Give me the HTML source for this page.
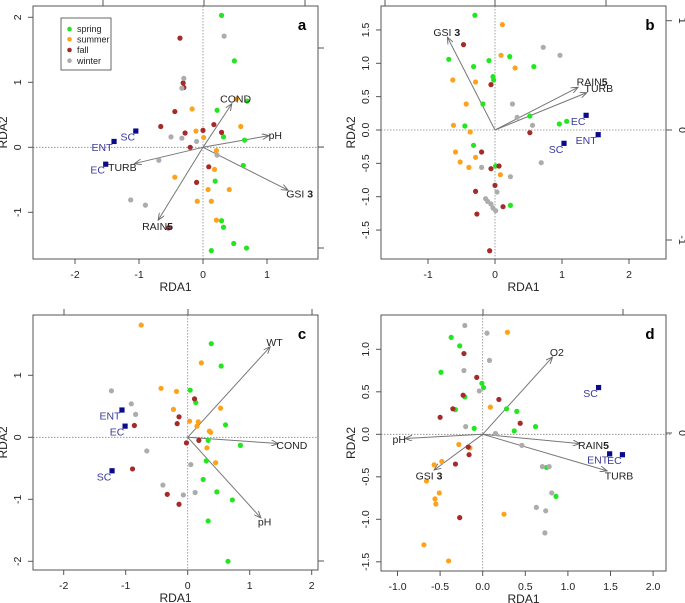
<!DOCTYPE html>
<html><head><meta charset="utf-8">
<style>
html,body{margin:0;padding:0;background:#fff;}
svg{display:block;font-family:"Liberation Sans",Arial,sans-serif;}
</style></head>
<body>
<svg id="fig" width="685" height="603" viewBox="0 0 685 603" xmlns="http://www.w3.org/2000/svg">
<defs>
<marker id="ah" markerWidth="8" markerHeight="6" refX="7" refY="3" orient="auto" markerUnits="userSpaceOnUse">
<path d="M0,0 L7,3 L0,6" fill="none" stroke="#666" stroke-width="0.9"/>
</marker>
</defs>
</svg>
<script>
// ---------- Panel a data ----------
const aSpring=[[0.29,2.03],[0.49,1.33],[0.69,0.71],[0.22,0.57],[0.32,0.16],[0.65,0.11],[0.63,-0.28],[0.19,-0.52],[0.29,-1.13],[0.32,-1.23],[0.48,-1.48],[0.68,-1.55],[0.13,-1.59]];
const aSummer=[[0.52,0.74],[-0.17,0.59],[0.59,0.32],[-0.11,0.25],[0.01,0.15],[0.21,-0.05],[0.18,-0.34],[-0.44,-0.46],[0.08,-0.65],[0.41,-0.65],[-0.09,-0.83],[0.13,-0.83],[0.21,-1.12]];
const aFall=[[-0.36,1.68],[-0.31,0.99],[-0.30,0.92],[-0.44,0.55],[-0.66,0.32],[-0.28,0.22],[0.17,0.35],[0,0.26],[0.29,0.23],[-0.20,0.0],[0.09,-0.30],[-0.10,-0.54],[-0.54,-1.24]];
const aWinter=[[0.33,1.71],[-0.30,1.06],[-0.33,0.91],[-0.50,0.16],[-0.33,0.14],[-0.10,0.09],[0.22,-0.12],[-0.69,-0.20],[-1.13,-0.81],[-0.90,-0.89]];
const aSpecies=[["SC",-1.05,0.25],["ENT",-1.39,0.09],["EC",-1.52,-0.26]];
const aArrows=[["COND",0.45,0.67,0.51,0.74],["pH",1.03,0.18,1.13,0.18],["TURB",-1.07,-0.25,-1.26,-0.31],["GSI 3",1.33,-0.66,1.51,-0.72],["RAIN5",-0.70,-1.12,-0.71,-1.22]];
const aXTicks=[-2,-1,0,1];
const aYTicks=[-1,0,1,2];
// ---------- Panel b data ----------
const bSpring=[[-0.30,1.72],[-0.69,1.06],[-0.09,1.04],[-0.32,0.95],[0.22,1.10],[0.58,0.95],[-0.03,0.80],[-0.02,0.75],[-0.18,0.39],[-0.45,0.06],[0.52,0.21],[0.96,0.09],[1.07,0.13],[-0.32,-0.23],[0.01,-0.54],[0.23,-1.13]];
const bSummer=[[0.11,1.58],[0.09,1.12],[0.30,0.93],[-0.63,0.75],[-0.29,0.72],[-0.43,0.39],[-0.62,0.07],[-0.37,-0.03],[-0.59,-0.33],[-0.52,-0.48],[-0.29,-0.41],[-0.39,-0.56],[0.08,-0.67]];
const bFall=[[-0.47,1.28],[-0.06,0.68],[0.52,-0.04],[-0.20,-0.33],[-0.06,-0.58],[0.06,-0.54],[0,-0.83],[-0.29,-0.92],[0.12,-1.15],[-0.27,-1.26],[-0.08,-1.81]];
const bWinter=[[0.72,1.24],[0.97,1.12],[0.26,0.39],[0.33,0.19],[0.56,0.07],[0.69,-0.49],[-0.20,-0.56],[0.23,-0.70],[0.03,-0.93],[-0.14,-1.03],[-0.11,-1.07],[-0.06,-1.11],[-0.03,-1.17],[0.01,-1.21]];
const bSpecies=[["EC",1.36,0.22],["ENT",1.54,-0.07],["SC",1.03,-0.20]];
const bArrows=[["GSI 3",-0.71,1.39,-0.72,1.46],["RAIN5",1.24,0.64,1.45,0.72],["TURB",1.37,0.56,1.55,0.62]];
const bXTicks=[-1,0,1,2];
const bYTicks=[-1.5,-1.0,-0.5,0.0,0.5,1.0,1.5];
// ---------- Panel c data ----------
const cSpring=[[0.38,1.51],[0.54,1.15],[0.04,0.76],[0.13,0.56],[0.61,0.20],[0.33,-0.05],[0.85,-0.13],[0.30,-0.38],[0.25,-0.68],[0.47,-0.88],[0.72,-1.01],[0.33,-1.35],[0.65,-2.0]];
const cSummer=[[-0.75,1.81],[0.22,1.20],[-0.43,0.79],[-0.18,0.74],[-0.23,0.45],[0.53,0.47],[0.03,0.26],[0.17,0.25],[0.15,0.18],[0.35,0.10],[0.37,0.08],[0.31,-0.17],[0.45,-0.41]];
const cFall=[[0.11,0.62],[-0.14,0.33],[-0.17,0.22],[-0.86,0.19],[0.18,-0.05],[-0.02,-0.09],[-0.89,-0.51],[-0.33,-0.92],[-0.14,-1.08]];
const cWinter=[[-1.23,0.75],[-0.91,0.54],[-0.84,0.37],[-0.66,-0.22],[0.05,-0.44],[-0.40,-0.77],[-0.07,-0.93],[0.12,-0.89]];
const cSpecies=[["ENT",-1.06,0.44],["EC",-1.01,0.18],["SC",-1.22,-0.54]];
const cArrows=[["WT",1.33,1.46,1.40,1.53],["COND",1.46,-0.10,1.68,-0.13],["pH",1.18,-1.30,1.24,-1.37]];
const cXTicks=[-2,-1,0,1,2];
const cYTicks=[-2,-1,0,1];
// ---------- Panel d data ----------
const dSpring=[[-0.37,1.14],[-0.27,1.04],[-0.49,0.73],[-0.01,0.60],[0.01,0.55],[-0.21,0.44],[-0.32,0.29],[0.28,0.30],[0.40,0.27],[-0.10,0.07],[0.62,0.09],[0.37,0.04],[0.75,-0.39],[0.86,-0.73]];
const dSummer=[[0.29,1.20],[0.09,0.32],[-0.28,-0.12],[-0.15,-0.16],[-0.48,-0.32],[-0.57,-0.36],[-0.66,-0.55],[-0.51,-0.69],[-0.56,-0.76],[-0.55,-0.82],[0.25,-0.94],[-0.69,-1.30],[-0.40,-1.49]];
const dFall=[[-0.22,0.95],[-0.07,0.67],[-0.23,0.46],[0.19,0.41],[-0.35,0.30],[-0.50,0.20],[0.44,0.13],[-0.17,-0.15],[-0.16,-0.24],[-0.32,-0.35],[-0.27,-0.98]];
const dWinter=[[-0.21,1.28],[0.05,1.19],[0.08,0.87],[-0.22,0.75],[-0.04,0.51],[-0.20,0.09],[0.15,0.01],[0.46,-0.13],[0.70,-0.38],[0.78,-0.38],[0.81,-0.69],[0.63,-0.86],[0.74,-0.90],[0.73,-1.16]];
const dSpecies=[["SC",1.36,0.55],["ENT",1.49,-0.23],["EC",1.64,-0.24]];
const dArrows=[["O2",0.82,0.91,0.87,0.96],["pH",-0.91,-0.05,-0.98,-0.06],["RAIN5",1.14,-0.11,1.30,-0.13],["TURB",1.46,-0.43,1.60,-0.49],["GSI 3",-0.57,-0.42,-0.63,-0.49]];
const dXTicks=[-1.0,-0.5,0.0,0.5,1.0,1.5,2.0];
const dYTicks=[-1.5,-1.0,-0.5,0.0,0.5,1.0];

const COLORS={spring:"#22e61e",summer:"#ffa21a",fall:"#a52a2a",winter:"#acacac"};
const NS="http://www.w3.org/2000/svg";
const svg=document.getElementById("fig");
function mk(tag,attrs,parent){const e=document.createElementNS(NS,tag);for(const k in attrs)e.setAttribute(k,attrs[k]);(parent||svg).appendChild(e);return e;}

function panel(p){
  const g=mk("g",{});
  
  
  const X=v=>p.x0+v*p.sx, Y=v=>p.y0-v*p.sy;
  const [L,T,R,B]=p.box;
  const zl=mk("line",{x1:X(0),x2:X(0),y1:T,y2:B,stroke:"#888","stroke-width":0.8,"stroke-dasharray":"1.5,1.5"},g);
  
  
  const zh=mk("line",{x1:L,x2:R+p.hext,y1:Y(0),y2:Y(0),stroke:"#888","stroke-width":0.8,"stroke-dasharray":"1.5,1.5"},g);
  
  
  const bx=mk("rect",{x:L,y:T,width:R-L,height:B-T,fill:"none",stroke:"#555","stroke-width":1},g);
  
  
  p.xt.forEach(v=>{
    mk("line",{x1:X(v),x2:X(v),y1:B,y2:B+5,stroke:"#555","stroke-width":1},g);
    const t=mk("text",{x:X(v),y:B+19,"font-size":10.5,"text-anchor":"middle",fill:"#222"},g);
    t.textContent=p.xfmt(v);
    
    
  });
  p.yt.forEach(v=>{
    mk("line",{x1:L-5,x2:L,y1:Y(v),y2:Y(v),stroke:"#555","stroke-width":1},g);
    const t=mk("text",{x:L-12,y:Y(v),"font-size":10.5,"text-anchor":"middle",fill:"#222",transform:`rotate(-90 ${L-12} ${Y(v)})`},g);
    t.textContent=p.fmt(v);
    
    
  });
  p.top.forEach(x=>mk("line",{x1:x,x2:x,y1:T-6,y2:T,stroke:"#555","stroke-width":1},g));
  p.right.forEach(r=>{
    mk("line",{x1:R,x2:R+6,y1:r[0],y2:r[0],stroke:"#555","stroke-width":1},g);
    if(r[1]!==""){const t=mk("text",{x:R+13,y:r[0],"font-size":10.5,"text-anchor":"middle",fill:"#222",transform:`rotate(90 ${R+13} ${r[0]})`},g);t.textContent=r[1];
      
      }
  });
  const xt=mk("text",{x:(L+R)/2,y:B+32,"font-size":12,"text-anchor":"middle",fill:"#222"},g);
  xt.textContent="RDA1";
  
  
  const yx=L-26, yy=(T+B)/2;
  const yt=mk("text",{x:yx,y:yy,"font-size":12,"text-anchor":"middle",fill:"#222",transform:`rotate(-90 ${yx} ${yy})`},g);
  yt.textContent="RDA2";
  
  
  p.arrows.forEach(a=>{
    const ln=mk("line",{x1:X(0),y1:Y(0),x2:X(a[1]),y2:Y(a[2]),stroke:"#777","stroke-width":1,"marker-end":"url(#ah)"},g);
    
    
  });
  [["spring",p.spring],["summer",p.summer],["fall",p.fall],["winter",p.winter]].forEach(([s,arr])=>{
    arr.forEach(pt=>{
      const c=mk("circle",{cx:X(pt[0]),cy:Y(pt[1]),r:2.6,fill:COLORS[s]},g);
      
      
    });
  });
  p.arrows.forEach(a=>{
    const t=mk("text",{x:X(a[3]),y:Y(a[4])+3.5,"font-size":10.5,"text-anchor":"middle",fill:"#222"},g);
    const m=a[0].match(/^(.*?)(\d)$/);
    if(m && a[0]!=="O2"){t.appendChild(document.createTextNode(m[1]));const b=mk("tspan",{"font-weight":"bold"},t);b.textContent=m[2];}
    else t.textContent=a[0];
    
    
  });
  p.species.forEach(s=>{
    const r=mk("rect",{x:X(s[1])-2.6,y:Y(s[2])-2.6,width:5.2,height:5.2,fill:"#0a0a8c"},g);
    
    
    const off=s[0]==="ENT"?12:8;
    const t=mk("text",{x:X(s[1])-off,y:Y(s[2])+9.5,"font-size":10.5,"text-anchor":"middle",fill:"#3a3a9a"},g);
    t.textContent=s[0];
    
    
  });
  const lt=mk("text",{x:R-16,y:T+24,"font-size":15,"font-weight":"bold","text-anchor":"middle",fill:"#000"},g);
  lt.textContent=p.id;
  
  
}
const f0=v=>String(v);
const f1=v=>v.toFixed(1);

panel({id:"a",x0:203,sx:64,y0:147.3,sy:65,box:[33,6,318,259],hext:5,xt:aXTicks,yt:aYTicks,fmt:f0,xfmt:f0,
  top:[103,204,305],right:[[48,""],[147,""],[248,""]],
  spring:aSpring,summer:aSummer,fall:aFall,winter:aWinter,species:aSpecies,arrows:aArrows});
panel({id:"b",x0:495,sx:67,y0:130,sy:66.7,box:[381,6,666,259],hext:6,xt:bXTicks,yt:bYTicks,fmt:f1,xfmt:f0,
  top:[385,495,606],right:[[20.7,"1"],[130,"0"],[240,"-1"]],
  spring:bSpring,summer:bSummer,fall:bFall,winter:bWinter,species:bSpecies,arrows:bArrows});
panel({id:"c",x0:187.7,sx:62,y0:437.3,sy:62,box:[33,315,318,570],hext:0,xt:cXTicks,yt:cYTicks,fmt:f0,xfmt:f0,
  top:[64,188,312],right:[[561,""]],
  spring:cSpring,summer:cSummer,fall:cFall,winter:cWinter,species:cSpecies,arrows:cArrows});
panel({id:"d",x0:482.7,sx:85.2,y0:434.3,sy:85,box:[381,315,666,571],hext:6,xt:dXTicks,yt:dYTicks,fmt:f1,xfmt:f1,
  top:[483,623],right:[[433,"0"]],
  spring:dSpring,summer:dSummer,fall:dFall,winter:dWinter,species:dSpecies,arrows:dArrows});

const lg=mk("g",{});


mk("rect",{x:61,y:18,width:50,height:52,fill:"#fff",stroke:"#444","stroke-width":0.8},lg);
[["spring",29],["summer",39.3],["fall",50],["winter",60.7]].forEach(([s,y])=>{
  const c=mk("circle",{cx:69.5,cy:y,r:2.3,fill:COLORS[s]},lg);
  
  
  const t=mk("text",{x:77,y:y+3.2,"font-size":9,fill:"#222"},lg);
  t.textContent=s;
  
  
});
</script>
</body></html>
